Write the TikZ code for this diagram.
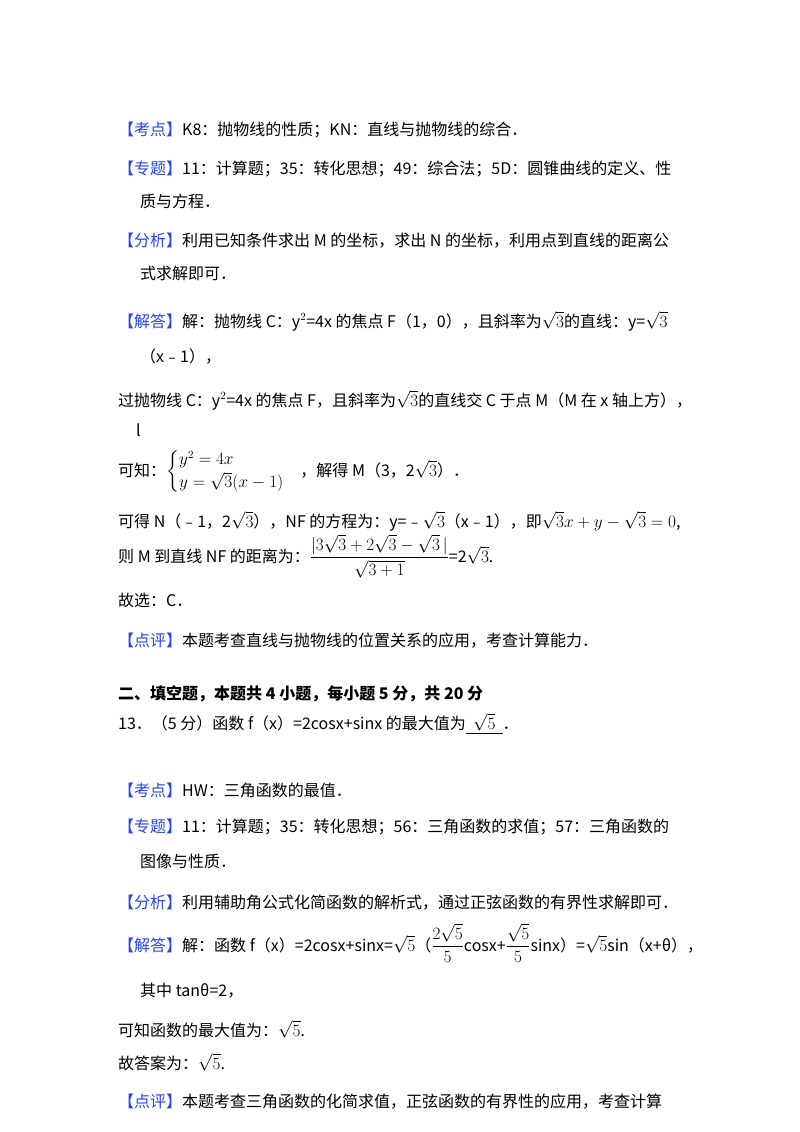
\documentclass[tikz,border=0pt]{standalone}
\usepackage{amsmath}
\usepackage{fontspec}
\setmainfont{Noto Sans CJK SC}
\setsansfont{Noto Sans CJK SC}
\definecolor{kb}{RGB}{40,70,235}
\newcommand{\tg}[1]{\textcolor{kb}{【#1】}}
\tikzset{ln/.style={anchor=base west,inner sep=0pt,font=\fontsize{16}{19}\selectfont}}
\begin{document}
\begin{tikzpicture}[x=1pt,y=-1pt]
\useasboundingbox[fill=white] (0,0) rectangle (800,1132);
\node[ln] (l1) at (118,135) {\tg{考点}K8：抛物线的性质；KN：直线与抛物线的综合．};
\node[ln] (l2) at (118,174) {\tg{专题}11：计算题；35：转化思想；49：综合法；5D：圆锥曲线的定义、性};
\node[ln] (l3) at (140,207) {质与方程．};
\node[ln] (l4) at (118,246) {\tg{分析}利用已知条件求出 M 的坐标，求出 N 的坐标，利用点到直线的距离公};
\node[ln] (l5) at (140,279) {式求解即可．};
\node[ln] (l6) at (118,327) {\tg{解答}解：抛物线 C：y$^2$=4x 的焦点 F（1，0），且斜率为$\sqrt{3}$的直线：y=$\sqrt{3}$};
\node[ln] (l7) at (140,362) {（x﹣1），};
\node[ln] (l8) at (118,406) {过抛物线 C：y$^2$=4x 的焦点 F，且斜率为$\sqrt{3}$的直线交 C 于点 M（M 在 x 轴上方），};
\node[ln] (l9) at (136,436) {l};
\node[ln] (l10) at (118,476) {可知：$\begin{cases} y^2=4x\\ y=\sqrt{3}(x-1)\end{cases}$，解得 M（3，2$\sqrt{3}$）．};
\node[ln] (l11) at (118,527) {可得 N（﹣1，2$\sqrt{3}$），NF 的方程为：y=﹣$\sqrt{3}$（x﹣1），即$\sqrt{3}x+y-\sqrt{3}=0$,};
\node[ln] (l12) at (118,562) {则 M 到直线 NF 的距离为：$\dfrac{|3\sqrt{3}+2\sqrt{3}-\sqrt{3}\,|}{\sqrt{3+1}}$=2$\sqrt{3}$.};
\node[ln] (l13) at (118,606) {故选：C．};
\node[ln] (l14) at (118,646) {\tg{点评}本题考查直线与抛物线的位置关系的应用，考查计算能力．};
\node[ln,font=\fontsize{16}{19}\selectfont\bfseries] (l15) at (118,699) {二、填空题，本题共 4 小题，每小题 5 分，共 20 分};
\node[ln] (l16) at (118,729) {13．（5 分）函数 f（x）=2cosx+sinx 的最大值为\underline{\ \ $\sqrt{5}$\ \ }．};
\node[ln] (l17) at (118,796) {\tg{考点}HW：三角函数的最值．};
\node[ln] (l18) at (118,832) {\tg{专题}11：计算题；35：转化思想；56：三角函数的求值；57：三角函数的};
\node[ln] (l19) at (140,867) {图像与性质．};
\node[ln] (l20) at (118,908) {\tg{分析}利用辅助角公式化简函数的解析式，通过正弦函数的有界性求解即可．};
\node[ln] (l21) at (118,951) {\tg{解答}解：函数 f（x）=2cosx+sinx=$\sqrt{5}$（$\dfrac{2\sqrt{5}}{5}$cosx+$\dfrac{\sqrt{5}}{5}$sinx）=$\sqrt{5}$sin（x+θ），};
\node[ln] (l22) at (140,996) {其中 tanθ=2，};
\node[ln] (l23) at (118,1036) {可知函数的最大值为：$\sqrt{5}$.};
\node[ln] (l24) at (118,1069) {故答案为：$\sqrt{5}$.};
\node[ln] (l25) at (118,1107) {\tg{点评}本题考查三角函数的化简求值，正弦函数的有界性的应用，考查计算};
\end{tikzpicture}
\end{document}
